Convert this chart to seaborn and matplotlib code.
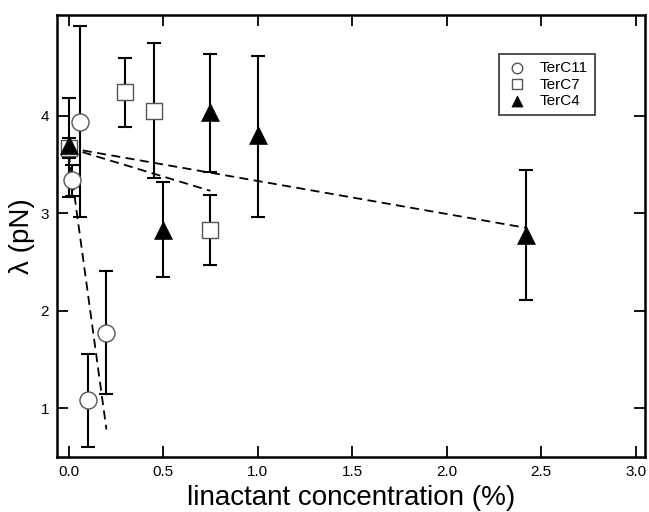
import matplotlib
matplotlib.use("Agg")
import matplotlib.pyplot as plt
import seaborn as sns
import numpy as np

# TerC11 (open circles)
c11_x = [0.02, 0.06, 0.10, 0.20]
c11_y = [3.34, 3.94, 1.08, 1.77]
c11_lo = [3.18, 2.96, 0.60, 1.14]
c11_hi = [3.50, 4.92, 1.55, 2.41]

# TerC7 (open squares)
c7_x = [0.00, 0.30, 0.45, 0.75]
c7_y = [3.67, 4.24, 4.05, 2.83]
c7_lo = [3.57, 3.89, 3.36, 2.47]
c7_hi = [3.77, 4.59, 4.75, 3.19]

# TerC4 (filled triangles)
c4_x = [0.00, 0.50, 0.75, 1.00, 2.42]
c4_y = [3.70, 2.83, 4.04, 3.80, 2.78]
c4_lo = [3.17, 2.35, 3.42, 2.96, 2.11]
c4_hi = [4.18, 3.32, 4.63, 4.61, 3.44]

# linear fits (dashed)
fit11_x = [0.0, 0.20]
fit11_y = [3.62, 0.78]
fit7_x = [0.0, 0.75]
fit7_y = [3.67, 3.23]
fit4_x = [0.0, 2.42]
fit4_y = [3.67, 2.85]

sns.set_style("ticks")
plt.rcParams["font.family"] = ["Liberation Sans", "DejaVu Sans"]
plt.rcParams["text.color"] = "black"
plt.rcParams["axes.labelcolor"] = "black"

fig = plt.figure(figsize=(6.49, 5.12), dpi=100)
ax = fig.add_axes([0.0883, 0.108, 0.9055, 0.8627])

for xs, ys, lo, hi in [(c11_x, c11_y, c11_lo, c11_hi),
                       (c7_x, c7_y, c7_lo, c7_hi),
                       (c4_x, c4_y, c4_lo, c4_hi)]:
    ys = np.array(ys)
    err = [ys - np.array(lo), np.array(hi) - ys]
    ax.errorbar(xs, ys, yerr=err, fmt="none", ecolor="black",
                elinewidth=1.5, capsize=5, capthick=1.5, zorder=2)

for fx, fy in [(fit11_x, fit11_y), (fit7_x, fit7_y), (fit4_x, fit4_y)]:
    sns.lineplot(x=fx, y=fy, color="black", linestyle=(0, (5, 3)),
                 linewidth=1.3, ax=ax, zorder=2.5)

sns.scatterplot(x=c11_x, y=c11_y, marker="o", s=150, facecolor="white",
                edgecolor="#555555", linewidth=1.0, label="TerC11", ax=ax, zorder=3)
sns.scatterplot(x=c7_x, y=c7_y, marker="s", s=135, facecolor="white",
                edgecolor="#555555", linewidth=1.0, label="TerC7", ax=ax, zorder=3)
sns.scatterplot(x=c4_x, y=c4_y, marker="^", s=165, facecolor="black",
                edgecolor="black", linewidth=0.5, label="TerC4", ax=ax, zorder=3)

ax.set_xlim(-0.06, 3.05)
ax.set_ylim(0.5, 5.035)
ax.set_xticks([0.0, 0.5, 1.0, 1.5, 2.0, 2.5, 3.0])
ax.set_xticklabels(["0.0", "0.5", "1.0", "1.5", "2.0", "2.5", "3.0"])
ax.set_yticks([1, 2, 3, 4])
ax.tick_params(direction="in", length=8, width=1.3, top=True, right=True,
               labelsize=11, colors="black", pad=6)
for sp in ax.spines.values():
    sp.set_visible(True)
    sp.set_linewidth(1.8)
    sp.set_color("black")

ax.set_xlabel("linactant concentration (%)", fontsize=20, labelpad=4)
ax.set_ylabel("λ (pN)", fontsize=20, labelpad=4)

leg = ax.legend(loc="upper left", bbox_to_anchor=(491.7 / 649, 1 - 46.7 / 512),
                bbox_transform=fig.transFigure, fontsize=11, markerscale=0.62,
                frameon=True, fancybox=False, edgecolor="black",
                handletextpad=0.8, labelspacing=0.15, borderpad=0.45,
                handlelength=1.4)
leg.get_frame().set_linewidth(1.2)

fig.savefig("out.png", dpi=100)
